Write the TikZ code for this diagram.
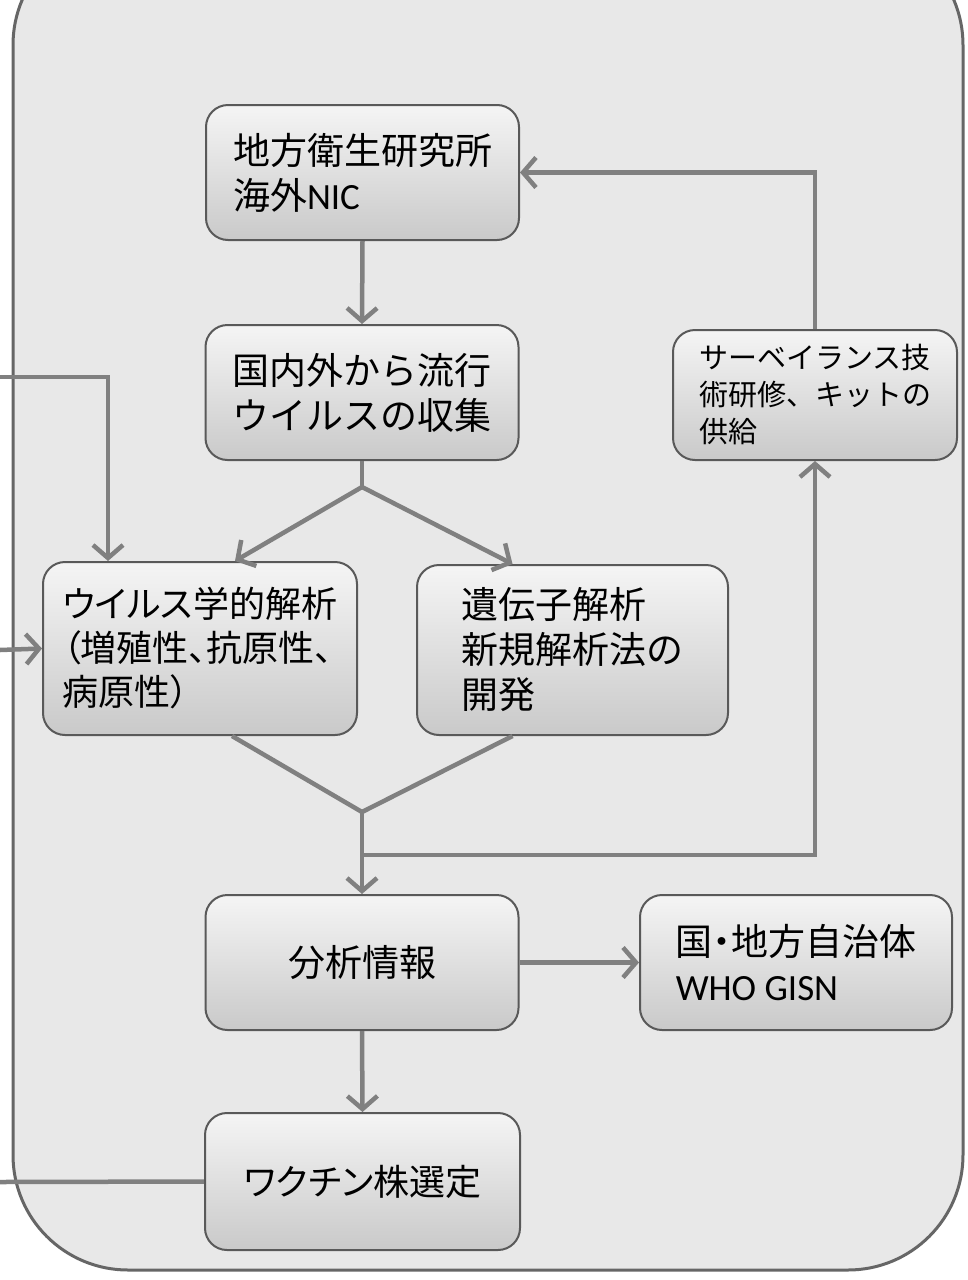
\documentclass[tikz,border=0pt]{standalone}
\usepackage{fontspec}
\setmainfont{Carlito}
\newfontfamily\cjk{Noto Sans CJK JP}
\newfontfamily\cjkp[RawFeature={+palt}]{Noto Sans CJK JP}
\usetikzlibrary{arrows.meta}
\begin{document}
\begin{tikzpicture}[x=1pt,y=-1pt,
  box/.style={draw=black!65, line width=2pt, rounded corners=22pt,
    top color=gray!8, bottom color=gray!42, align=left, inner sep=0pt,
    text=black, font=\cjk\fontsize{37}{45}\selectfont},
  conn/.style={draw=black!50, line width=4.5pt,
    -{Straight Barb[length=13pt,width=30pt]}},
  plain/.style={draw=black!50, line width=4.5pt},
  frame/.style={draw=black!60, line width=3pt, fill=gray!18, rounded corners=115pt},
]
\useasboundingbox (0,0) rectangle (967,1280);
\fill[white] (0,0) rectangle (967,1280);
\path[frame] (13,-70) rectangle (963,1270);

% boxes
\node[box, minimum width=313pt, minimum height=135pt] (b1) at (362.5,172.5)
  {地方衛生研究所\\海外{\fontspec{Carlito}NIC}};
\node[box, minimum width=313pt, minimum height=135pt] (b2) at (362,392.5)
  {国内外から流行\\ウイルスの収集};
\node[box, minimum width=314pt, minimum height=173pt,
  font=\cjkp\fontsize{36}{44}\selectfont] (b3) at (200,648.5)
  {ウイルス学的解析\\（増殖性、抗原性、\\病原性）};
\node[box, minimum width=311pt, minimum height=170pt] (b4) at (572.5,650)
  {遺伝子解析\\新規解析法の\\開発};
\node[box, minimum width=284pt, minimum height=130pt,
  font=\cjk\fontsize{29}{37}\selectfont] (b5) at (815,395)
  {サーベイランス技\\術研修、キットの\\供給};
\node[box, minimum width=313pt, minimum height=135pt] (b6) at (362,962.5)
  {分析情報};
\node[box, minimum width=312pt, minimum height=135pt,
  font=\cjkp\fontsize{37}{45}\selectfont] (b7) at (796,962.5)
  {国・地方自治体\\{\fontspec{Carlito}WHO GISN}};
\node[box, minimum width=315pt, minimum height=137pt,
  font=\cjkp\fontsize{36}{44}\selectfont] (b8) at (362.5,1181.5)
  {ワクチン株選定};

% helper coordinates
\coordinate (s1) at (362,487);
\coordinate (j) at (362,812);
\coordinate (h) at (362,855);
\coordinate (e1) at (0,377);
\coordinate (e2) at (0,650);
\coordinate (e3) at (0,1182);

% connectors
\draw[conn] (b1.south) -- (b2.north);
\draw[plain] (b2.south) -- (s1);
\draw[conn] (s1) -- ([xshift=35pt]b3.north);
\draw[conn] (s1) -- ([xshift=-60pt]b4.north);
\draw[plain] ([xshift=32pt]b3.south) -- (j);
\draw[plain] ([xshift=-60pt]b4.south) -- (j);
\draw[conn] (j) -- (b6.north);
\draw[conn] (h) -| (b5.south);
\draw[conn] (b5.north) |- (b1.east);
\draw[conn] (b6.east) -- (b7.west);
\draw[conn] (b6.south) -- (b8.north);
\draw[conn] (e1) -| ([xshift=-92pt]b3.north);
\draw[conn] (e2) -- (b3.west);
\draw[plain] (e3) -- (b8.west);
\end{tikzpicture}
\end{document}
